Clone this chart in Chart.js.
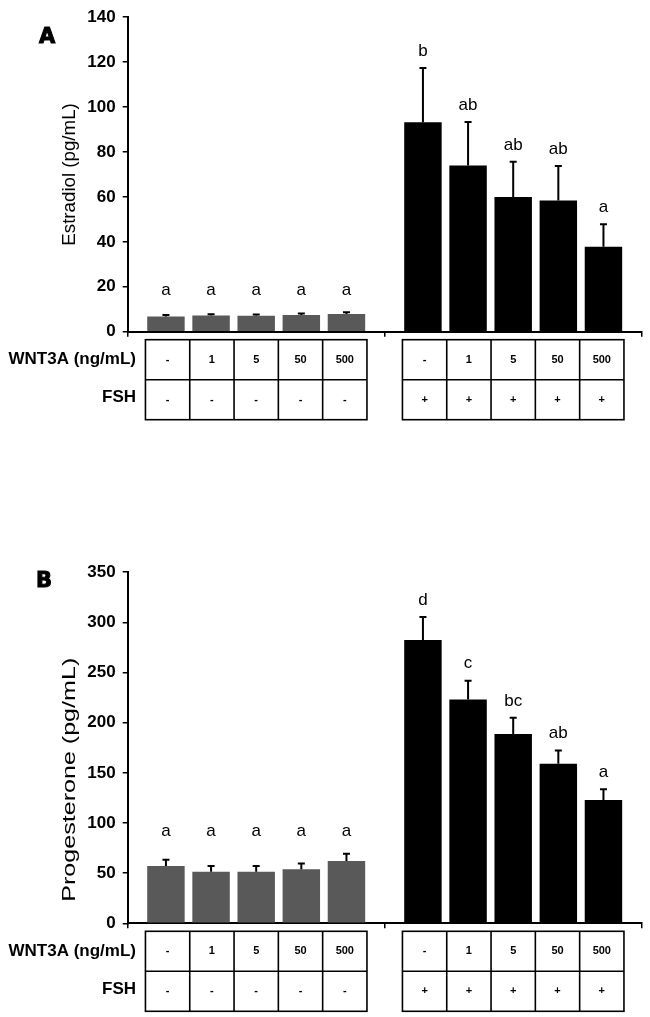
<!DOCTYPE html>
<html>
<head>
<meta charset="utf-8">
<script src="https://cdn.jsdelivr.net/npm/chart.js@4.4.0/dist/chart.umd.min.js"></script>
<style>
body{margin:0;background:#fff;}
#wrap{position:relative;width:650px;height:1017px;}
canvas{position:absolute;left:0;}
</style>
</head>
<body>
<div id="wrap">
<canvas id="chartA" width="650" height="430" style="top:0"></canvas>
<canvas id="chartB" width="650" height="462" style="top:555px"></canvas>
</div>
<script>
const groups = ["FSH -", "FSH +"];
const doses = ["-", "1", "5", "50", "500"];
const fshSigns = ["-", "+"];

const estradiolNoFsh = [6.8, 7.2, 7.1, 7.4, 7.9];
const estradiolNoFshErr = [0.6, 0.6, 0.6, 0.7, 0.8];
const estradiolFsh = [93.2, 74.0, 60.0, 58.4, 37.8];
const estradiolFshErr = [24.2, 19.4, 15.6, 15.4, 10.0];
const estradiolLettersNoFsh = ["a", "a", "a", "a", "a"];
const estradiolLettersFsh = ["b", "ab", "ab", "ab", "a"];

const progesteroneNoFsh = [57.0, 51.5, 51.5, 54.0, 62.0];
const progesteroneNoFshErr = [6.3, 5.5, 5.5, 5.6, 7.3];
const progesteroneFsh = [282.3, 223.0, 188.8, 159.0, 123.0];
const progesteroneFshErr = [23.0, 18.8, 16.0, 13.3, 10.6];
const progesteroneLettersNoFsh = ["a", "a", "a", "a", "a"];
const progesteroneLettersFsh = ["d", "c", "bc", "ab", "a"];

Chart.defaults.font.family = "'Liberation Sans', Arial, sans-serif";
Chart.defaults.color = "#000";

function makePanel(id, p) {
  const canvas = document.getElementById(id);
  const H = canvas.height;
  const sets = [
    {values: p.noFsh, errors: p.noFshErr, letters: p.lettersNoFsh, sameLevel: true},
    {values: p.fsh, errors: p.fshErr, letters: p.lettersFsh, sameLevel: false}
  ];

  const extras = {
    id: "extras",
    afterDatasetsDraw(chart) {
      const ctx = chart.ctx;
      const y = chart.scales.y;
      ctx.save();
      ctx.strokeStyle = "#000";
      ctx.fillStyle = "#000";
      ctx.lineWidth = 2;
      sets.forEach((g, j) => {
        const tops = g.values.map((v, i) => y.getPixelForValue(v + g.errors[i]));
        const level = Math.min(...tops);
        g.values.forEach((v, i) => {
          const bar = chart.getDatasetMeta(i).data[j];
          const t = tops[i];
          // upper error bar with cap
          ctx.beginPath();
          ctx.moveTo(bar.x, y.getPixelForValue(v));
          ctx.lineTo(bar.x, t);
          ctx.moveTo(bar.x - 3.5, t);
          ctx.lineTo(bar.x + 3.5, t);
          ctx.stroke();
          ctx.font = "17px 'Liberation Sans', Arial, sans-serif";
          ctx.textAlign = "center";
          ctx.textBaseline = "middle";
          const ly = g.sameLevel ? level - 22 : t - 17;
          ctx.fillText(g.letters[i], bar.x, ly);
        });
      });
      ctx.restore();
    },
    afterDraw(chart) {
      const ctx = chart.ctx;
      const area = chart.chartArea;
      ctx.save();
      ctx.fillStyle = "#000";
      ctx.strokeStyle = "#000";

      // y title
      ctx.save();
      ctx.translate(70, (area.top + area.bottom) / 2 + p.titleShift);
      ctx.rotate(-Math.PI / 2);
      ctx.scale(p.titleStretch, 1);
      ctx.font = p.titleSize + "px 'Liberation Sans', Arial, sans-serif";
      ctx.textAlign = "center";
      ctx.textBaseline = "middle";
      ctx.fillText(p.title, 0, 0);
      ctx.restore();

      // panel letter
      ctx.font = "bold 21px 'DejaVu Sans', sans-serif";
      ctx.textAlign = "left";
      ctx.textBaseline = "alphabetic";
      ctx.lineWidth = 1;
      ctx.fillText(p.panel, p.panelX, p.panelY);
      ctx.strokeText(p.panel, p.panelX, p.panelY);

      // table under the bars
      const top = area.bottom + 8;
      const rowH = 40;
      ctx.lineWidth = 1.6;
      [0, 1].forEach(j => {
        const first = chart.getDatasetMeta(0).data[j];
        const last = chart.getDatasetMeta(doses.length - 1).data[j];
        const left = first.x - 20.5;
        const right = last.x + 20.5;
        const colW = (right - left) / doses.length;
        ctx.strokeRect(left, top, right - left, rowH * 2);
        ctx.beginPath();
        ctx.moveTo(left, top + rowH);
        ctx.lineTo(right, top + rowH);
        for (let k = 1; k < doses.length; k++) {
          ctx.moveTo(left + k * colW, top);
          ctx.lineTo(left + k * colW, top + rowH * 2);
        }
        ctx.stroke();
        ctx.font = "bold 11px 'Liberation Sans', Arial, sans-serif";
        ctx.textAlign = "center";
        ctx.textBaseline = "middle";
        doses.forEach((d, k) => {
          const cx = left + (k + 0.5) * colW;
          ctx.fillText(d, cx, top + rowH / 2);
          ctx.fillText(fshSigns[j], cx, top + rowH * 1.5);
        });
      });
      ctx.font = "bold 17px 'Liberation Sans', Arial, sans-serif";
      ctx.textAlign = "right";
      ctx.textBaseline = "middle";
      ctx.fillText("WNT3A (ng/mL)", 136, top + rowH / 2);
      ctx.fillText("FSH", 136, top + rowH * 1.5 - 2);
      ctx.restore();
    }
  };

  return new Chart(canvas, {
    type: "bar",
    data: {
      labels: groups,
      datasets: doses.map((d, i) => ({
        label: d,
        data: [p.noFsh[i], p.fsh[i]],
        backgroundColor: ["#595959", "#000000"],
        borderWidth: 0,
        categoryPercentage: 0.878,
        barPercentage: 0.83
      }))
    },
    options: {
      responsive: false,
      animation: false,
      layout: {padding: {top: p.plotTop, right: 8.3, left: 0, bottom: 0}},
      plugins: {legend: {display: false}, tooltip: {enabled: false}},
      scales: {
        x: {
          offset: true,
          z: 1,
          grid: {offset: true, drawOnChartArea: false, drawTicks: true, tickLength: 5, color: "#000", lineWidth: 1.5},
          border: {display: true, color: "#000", width: 2},
          ticks: {display: false},
          afterFit(s) { s.height = H - p.plotBottom; }
        },
        y: {
          min: 0,
          max: p.max,
          z: 1,
          ticks: {stepSize: p.step, color: "#000", font: {size: 17, weight: "bold"}, padding: 7},
          grid: {drawOnChartArea: false, tickLength: 5, color: "#000", lineWidth: 1.5},
          border: {display: true, color: "#000", width: 2},
          afterFit(s) { s.width = 127.7; }
        }
      }
    },
    plugins: [extras]
  });
}

makePanel("chartA", {
  title: "Estradiol (pg/mL)", titleSize: 18, titleStretch: 1.04, titleShift: 0,
  panel: "A", panelX: 39, panelY: 43,
  max: 140, step: 20, plotTop: 13.3, plotBottom: 331.7,
  noFsh: estradiolNoFsh, noFshErr: estradiolNoFshErr,
  fsh: estradiolFsh, fshErr: estradiolFshErr,
  lettersNoFsh: estradiolLettersNoFsh, lettersFsh: estradiolLettersFsh
});

makePanel("chartB", {
  title: "Progesterone (pg/mL)", titleSize: 19, titleStretch: 1.32, titleShift: 32,
  panel: "B", panelX: 36, panelY: 32,
  max: 350, step: 50, plotTop: 15, plotBottom: 368.3,
  noFsh: progesteroneNoFsh, noFshErr: progesteroneNoFshErr,
  fsh: progesteroneFsh, fshErr: progesteroneFshErr,
  lettersNoFsh: progesteroneLettersNoFsh, lettersFsh: progesteroneLettersFsh
});
</script>
</body>
</html>
